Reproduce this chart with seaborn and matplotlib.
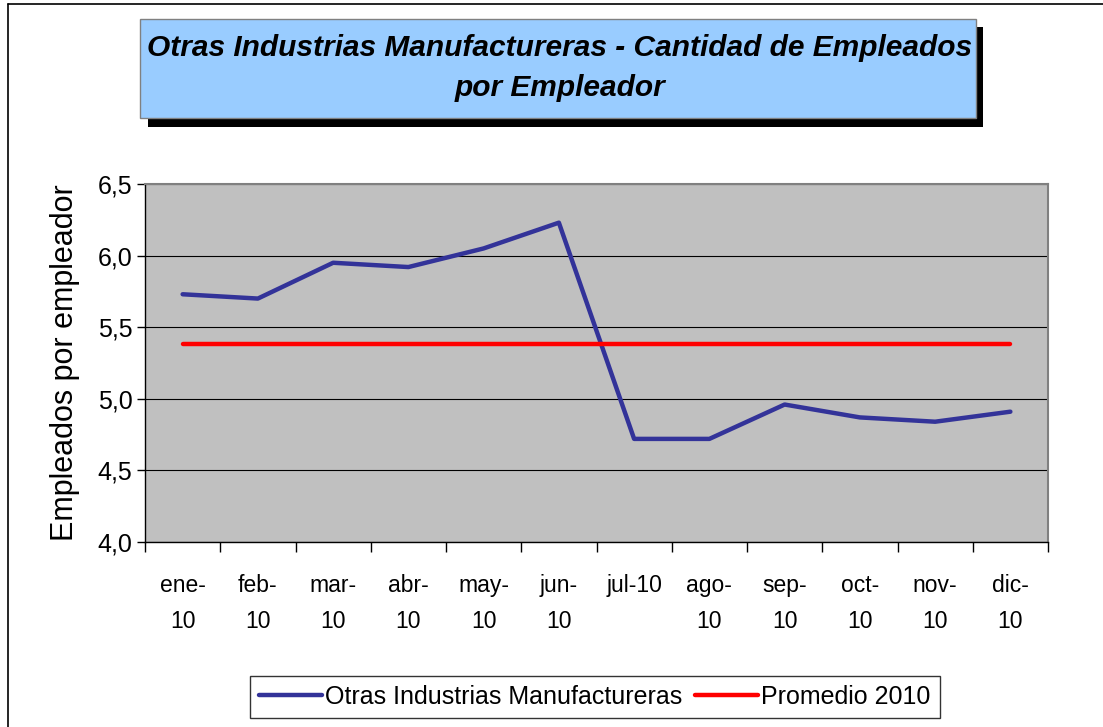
import matplotlib
matplotlib.use("Agg")
import matplotlib.pyplot as plt
import seaborn as sns
import pandas as pd
from matplotlib.patches import Rectangle
from matplotlib.lines import Line2D
from matplotlib.ticker import FixedLocator, NullFormatter

# datos
meses = ["ene-\n10", "feb-\n10", "mar-\n10", "abr-\n10", "may-\n10", "jun-\n10",
         "jul-10", "ago-\n10", "sep-\n10", "oct-\n10", "nov-\n10", "dic-\n10"]
empleados = [5.73, 5.70, 5.95, 5.92, 6.05, 6.23, 4.72, 4.72, 4.96, 4.87, 4.84, 4.91]
promedio = [5.38] * 12
y_ticks = [4.0, 4.5, 5.0, 5.5, 6.0, 6.5]
y_labels = ["4,0", "4,5", "5,0", "5,5", "6,0", "6,5"]

df = pd.DataFrame({"pos": range(len(meses)), "mes": meses,
                   "Otras Industrias Manufactureras": empleados,
                   "Promedio 2010": promedio})

sns.set_theme(style="white")
plt.rcParams["font.family"] = ["Liberation Sans", "DejaVu Sans"]
plt.rcParams.update({"text.color": "black", "axes.labelcolor": "black",
                     "xtick.color": "black", "ytick.color": "black"})

W, H = 1103, 727
fig = plt.figure(figsize=(W / 100, H / 100), dpi=100)
ax = fig.add_axes([145 / W, 1 - 542 / H, (1048 - 145) / W, (542 - 184) / H])
ax.set_facecolor("#C0C0C0")

sns.lineplot(data=df, x="pos", y="Otras Industrias Manufactureras", ax=ax,
             color="#333399", lw=3.2, legend=False)
sns.lineplot(data=df, x="pos", y="Promedio 2010", ax=ax,
             color="#FF0000", lw=3.2, legend=False)
for l in ax.lines:
    l.set_solid_capstyle("round")

ax.set_xlim(-0.5, len(meses) - 0.5)
ax.set_ylim(4.0, 6.5)
ax.set_yticks(y_ticks)
ax.set_yticklabels(y_labels, fontsize=18)
ax.yaxis.grid(True, color="black", lw=0.8)
ax.set_axisbelow(True)

# ticks entre categorias, etiquetas en el centro
ax.xaxis.set_major_locator(FixedLocator([i - 0.5 for i in range(len(meses) + 1)]))
ax.xaxis.set_major_formatter(NullFormatter())
ax.xaxis.set_minor_locator(FixedLocator(list(range(len(meses)))))
ax.set_xticklabels(meses, minor=True, fontsize=16.5, linespacing=1.7)
ax.tick_params(axis="x", which="major", direction="out", length=7, width=1, color="black", bottom=True)
ax.tick_params(axis="x", which="minor", length=0, pad=23)
ax.tick_params(axis="y", direction="out", length=6, width=1, color="black", left=True, pad=3)

ax.set_xlabel("")
ax.set_ylabel("Empleados por empleador", fontsize=22, labelpad=13)

for s in ["top", "right"]:
    ax.spines[s].set_color("#808080")
    ax.spines[s].set_linewidth(1.5)
for s in ["left", "bottom"]:
    ax.spines[s].set_color("black")
    ax.spines[s].set_linewidth(1)

# caja del titulo con sombra
fig.patches.append(Rectangle((148 / W, 1 - 127 / H), (983 - 148) / W, (127 - 27) / H,
                             transform=fig.transFigure, facecolor="black", edgecolor="none", zorder=1))
fig.patches.append(Rectangle((140 / W, 1 - 118 / H), (976 - 140) / W, (118 - 19) / H,
                             transform=fig.transFigure, facecolor="#99CCFF", edgecolor="#808080",
                             lw=1, zorder=2))
fig.text(560 / W, 1 - 68 / H, "Otras Industrias Manufactureras - Cantidad de Empleados\npor Empleador",
         ha="center", va="center", fontsize=21.5, fontweight="bold", fontstyle="italic",
         linespacing=1.5, zorder=3)

# marco exterior
fig.lines.append(Line2D([8 / W, 8 / W], [0, 1 - 4 / H], transform=fig.transFigure, color="black", lw=1.2))
fig.lines.append(Line2D([8 / W, 1], [1 - 4 / H, 1 - 4 / H], transform=fig.transFigure, color="black", lw=1.2))

handles = [Line2D([], [], color="#333399", lw=3.2, solid_capstyle="round"),
           Line2D([], [], color="#FF0000", lw=3.2, solid_capstyle="round")]
leg = fig.legend(handles, ["Otras Industrias Manufactureras", "Promedio 2010"],
                 loc="center", bbox_to_anchor=(595 / W, 1 - 697 / H), ncol=2, fontsize=18,
                 frameon=True, fancybox=False, edgecolor="black", handlelength=2.5,
                 handletextpad=0.15, columnspacing=0.5, borderpad=0.35, borderaxespad=0)
leg.get_frame().set_linewidth(1)

fig.savefig("out.png", dpi=100)
